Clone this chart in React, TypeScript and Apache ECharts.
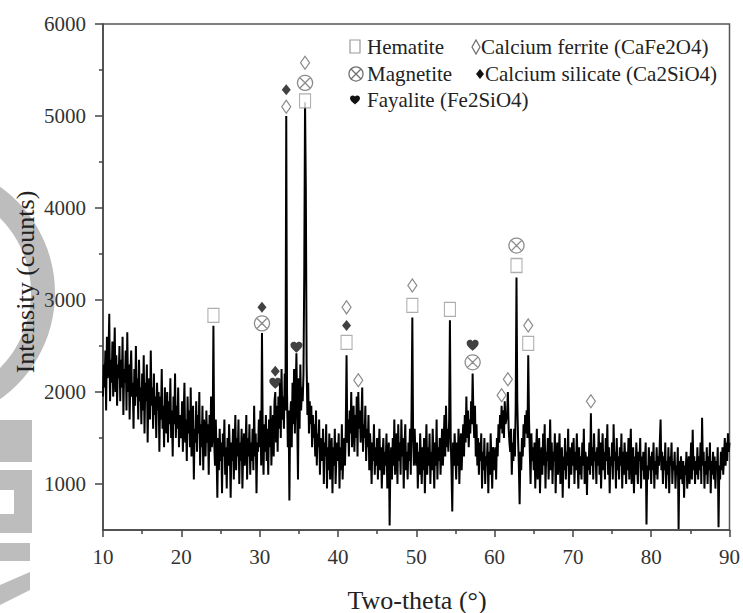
import React, { useEffect, useRef } from "react";
import * as echarts from "echarts";

// Sampling grid of the diffraction pattern (degrees 2θ)
const thetaStart = 10;
const thetaStep = 0.1;

// Intensity (counts), one array per 10° window
const int10to20 = [
  1950, 2300, 2050, 2450, 1800, 2600, 2150, 2400, 2850, 1900,
  2350, 2100, 2550, 1950, 2250, 2700, 2000, 2400, 1850, 2300,
  2150, 2500, 1900, 2350, 2050, 2600, 1750, 2250, 2100, 2450,
  1800, 2650, 2000, 2300, 1700, 2200, 2450, 1950, 2100, 1600,
  2250, 1850, 2500, 1950, 2150, 1700, 2350, 1900, 2050, 1650,
  2200, 1800, 2400, 1550, 2100, 1900, 2300, 1450, 2000, 2150,
  1700, 2450, 1850, 2050, 1600, 2200, 1750, 1950, 1500, 2100,
  1800, 2000, 1350, 1950, 1700, 2250, 1600, 1850, 1400, 2050,
  1750, 1550, 2000, 1450, 1900, 1650, 2150, 1500, 1800, 1300,
  1950, 1650, 2200, 1500, 1850, 1600, 2050, 1400, 1750, 1550,
];
const int20to30 = [
  1500, 1900, 1350, 1750, 2100, 1450, 1700, 1250, 1950, 1550,
  1800, 1400, 2050, 1300, 1650, 1850, 1050, 1600, 1450, 1900,
  1350, 1750, 1550, 2000, 1200, 1650, 1400, 1850, 1150, 1700,
  1500, 1300, 1800, 1450, 1650, 1100, 1750, 1350, 1950, 1400,
  1550, 2720, 1450, 1200, 1700, 1350, 850, 1500, 1150, 1600,
  1250, 1450, 900, 1550, 1300, 1700, 1100, 1400, 950, 1500,
  1200, 1650, 1350, 850, 1450, 1250, 1600, 1050, 1400, 1750,
  1150, 1500, 1300, 1700, 1000, 1450, 1250, 1600, 950, 1350,
  1550, 1200, 1400, 1750, 1050, 1500, 1300, 1650, 1100, 1450,
  1250, 1600, 1150, 1850, 1300, 1550, 900, 1450, 1350, 1700,
];
const int30to40 = [
  1400, 1800, 1200, 2640, 1500, 1100, 1650, 1350, 1750, 1250,
  1600, 1100, 1700, 1400, 1850, 1200, 1550, 1750, 1300, 1900,
  2000, 1450, 1850, 1350, 1950, 1600, 2100, 1500, 2250, 1700,
  1950, 1600, 2200, 1800, 5000, 2000, 1400, 1800, 820, 1700,
  1900, 1400, 2100, 1650, 2250, 1550, 2000, 2420, 1700, 1050,
  2150, 1600, 2300, 1800, 2050, 1900, 2200, 3300, 5150, 4200,
  2300, 1750, 2100, 1550, 1900, 1650, 1850, 1400, 1750, 1500,
  1650, 1300, 1800, 1200, 1550, 1400, 1700, 1100, 1500, 1350,
  1250, 1600, 1000, 1450, 1300, 1650, 950, 1400, 1150, 1550,
  1050, 1350, 1500, 900, 1400, 1200, 1600, 1000, 1300, 1450,
];
const int40to50 = [
  1250, 1550, 950, 1400, 1150, 1650, 1050, 1350, 1500, 1200,
  1600, 2400, 1450, 1700, 1300, 1800, 1550, 2000, 1400, 1650,
  1850, 1350, 1750, 1500, 1950, 1300, 2000, 1600, 1800, 1450,
  1700, 2050, 1350, 1650, 1500, 1850, 1250, 1600, 1400, 1750,
  1150, 1550, 1350, 1000, 1450, 1250, 1650, 1100, 1400, 1200,
  1500, 1050, 1350, 1600, 1150, 1400, 950, 1300, 1500, 1100,
  1350, 1200, 1550, 950, 1300, 1450, 550, 1250, 1400, 1050,
  1500, 1200, 1700, 1100, 1350, 1550, 1000, 1650, 1250, 1450,
  1100, 1700, 1300, 1500, 950, 1400, 1650, 1150, 1350, 1050,
  1450, 1250, 1600, 1100, 1800, 2810, 1500, 1200, 1600, 1300,
];
const int50to60 = [
  1200, 1450, 950, 1350, 1100, 1550, 1250, 1000, 1400, 1150,
  1500, 900, 1300, 1650, 1100, 1400, 1200, 1550, 1000, 1350,
  1150, 1600, 1300, 950, 1450, 1200, 1700, 1050, 1400, 1250,
  1500, 1100, 1350, 1600, 1200, 1450, 1750, 1300, 1850, 1400,
  1600, 1350, 1700, 2780, 1500, 1150, 700, 1450, 1200, 1550,
  1300, 1050, 1450, 1200, 1600, 1000, 1350, 1550, 1150, 1450,
  1650, 1300, 1750, 1450, 1950, 1500, 1800, 1400, 1700, 1550,
  1900, 1650, 2200, 1750, 1500, 1850, 1300, 1650, 1200, 1500,
  1100, 1450, 1250, 1550, 950, 1350, 1150, 1500, 1000, 1300,
  1200, 1450, 900, 1350, 1100, 1550, 1250, 950, 1400, 1300,
];
const int60to70 = [
  1150, 1400, 1050, 1500, 1300, 1650, 1450, 1750, 1600, 1850,
  1550, 1800, 1500, 1900, 1650, 1700, 1750, 2000, 1600, 1450,
  1350, 1600, 1100, 1450, 1250, 1600, 1300, 1850, 3245, 1900,
  1500, 1200, 780, 1350, 1150, 1500, 1300, 1650, 1400, 1750,
  1550, 1800, 1500, 2400, 1700, 1350, 1000, 1550, 1250, 1400,
  1150, 1450, 950, 1350, 1600, 1050, 1300, 1500, 900, 1250,
  1400, 1100, 1550, 1200, 1650, 950, 1350, 1250, 1500, 1050,
  1300, 1700, 1150, 1450, 1000, 1350, 1250, 1550, 900, 1300,
  1450, 1100, 1350, 1550, 1000, 1250, 1400, 850, 1300, 1150,
  1500, 1050, 1350, 1200, 1600, 950, 1400, 1250, 1100, 1450,
];
const int70to80 = [
  1200, 1500, 1000, 1350, 1150, 1550, 1250, 950, 1400, 1100,
  1300, 1050, 1450, 1200, 1600, 1000, 1350, 1250, 880, 1300,
  1150, 1450, 1100, 1770, 1200, 1400, 1050, 1550, 1250, 1350,
  1000, 1400, 1200, 1600, 1100, 1450, 950, 1300, 1550, 1150,
  1350, 1050, 1500, 1250, 1650, 1100, 1400, 900, 1300, 1200,
  1450, 1050, 1650, 1250, 1350, 950, 1500, 1150, 1300, 1050,
  1400, 1200, 1550, 950, 1350, 1100, 1450, 1250, 1000, 1350,
  1150, 1500, 1050, 1300, 1600, 1000, 1250, 1400, 900, 1300,
  1100, 1450, 1200, 1000, 1350, 1250, 1500, 950, 1300, 1150,
  1350, 1050, 1250, 1450, 560, 1200, 1050, 1400, 1150, 1300,
];
const int80to90 = [
  1000, 1350, 1150, 1450, 950, 1250, 1100, 1400, 1050, 1300,
  1200, 1450, 1700, 1150, 1350, 1000, 1300, 1150, 1450, 950,
  1250, 1100, 1400, 900, 1300, 1200, 1450, 1000, 1250, 1150,
  1350, 950, 1200, 1100, 1400, 510, 1250, 1050, 1300, 1150,
  1000, 1250, 850, 1200, 1100, 1350, 950, 1150, 1300, 1000,
  1200, 1450, 1050, 1590, 1150, 1300, 1000, 1250, 1100, 1400,
  1050, 1300, 1150, 1450, 1000, 1720, 1200, 1350, 950, 1250,
  1100, 1400, 1000, 1300, 1150, 1450, 900, 1250, 1100, 1350,
  1050, 1300, 950, 1250, 1150, 1400, 530, 1200, 1050, 1350,
  1150, 1400, 1100, 1300, 1500, 1200, 1450, 1250, 1550, 1350,
  1450,
];

// Phase markers: [2θ, marker height in counts]
const hematitePeaks = [[24.1, 2833], [35.8, 5165], [41.1, 2540], [49.5, 2941], [54.3, 2898], [62.8, 3375], [64.3, 2529]];
const calciumFerritePeaks = [[33.4, 5100], [35.8, 5578], [41.1, 2920], [42.6, 2128], [49.5, 3158], [60.9, 1965], [61.7, 2138], [64.3, 2724], [72.3, 1900]];
const magnetitePeaks = [[30.3, 2746], [35.8, 5360], [57.2, 2323], [62.8, 3592]];
const calciumSilicatePeaks = [[30.3, 2920], [32.0, 2225], [33.4, 5285], [41.1, 2724]];
const fayalitePeaks = [[32.0, 2095], [34.7, 2486], [57.2, 2507]];

// Axis ticks
const yLabelTicks = [1000, 2000, 3000, 4000, 5000, 6000];
const yMinorTicks = [1500, 2500, 3500, 4500, 5500];

// Legend entries (two columns)
const legendCol1 = ["Hematite", "Magnetite", "Fayalite (Fe2SiO4)"];
const legendCol2 = ["Calcium ferrite (CaFe2O4)", "Calcium silicate (Ca2SiO4)"];

const SERIF = "Liberation Serif";
const TXT = "#222";
const GREY_SQ = "#9a9a9a";
const GREY_DIA = "#6a6a6a";
const GREY_OT = "#6f6f6f";

const OTIMES = "path://M12,2 A10,10 0 1,1 11.99,2 Z M4.93,4.93 L19.07,19.07 M19.07,4.93 L4.93,19.07";
const HEART = "path://M12,21 L10.5,19.7 C5.4,15.1 2,12.1 2,8.4 C2,5.4 4.4,3 7.5,3 C9.2,3 10.9,3.8 12,5.1 C13.1,3.8 14.8,3 16.5,3 C19.6,3 22,5.4 22,8.4 C22,12.1 18.6,15.1 13.5,19.7 Z";
const HEART_SMALL = "M6,10.5 L5.25,9.85 C2.7,7.55 1,6.05 1,4.2 C1,2.7 2.2,1.5 3.75,1.5 C4.6,1.5 5.45,1.9 6,2.55 C6.55,1.9 7.4,1.5 8.25,1.5 C9.8,1.5 11,2.7 11,4.2 C11,6.05 9.3,7.55 6.75,9.85 Z";

let heartRegistered = false;

export default function App() {
  const ref = useRef<HTMLDivElement>(null);
  useEffect(() => {
    if (!ref.current) return;
    if (!heartRegistered) {
      echarts.graphic.registerShape("legendHeart", echarts.graphic.extendPath(HEART_SMALL, {}));
      heartRegistered = true;
    }
    const chart = echarts.init(ref.current, undefined, { renderer: "svg" });
    const all = [
      ...int10to20, ...int20to30, ...int30to40, ...int40to50,
      ...int50to60, ...int60to70, ...int70to80, ...int80to90,
    ];
    const pattern = all.map((v, i) => [Math.round((thetaStart + i * thetaStep) * 10) / 10, v]);

    const rowY = [47, 74, 100];
    const legendTexts = [
      ...legendCol1.map((t, i) => ({ x: 367, y: rowY[i], t })),
      { x: 481, y: rowY[0], t: legendCol2[0] },
      { x: 485, y: rowY[1], t: legendCol2[1] },
    ].map((o) => ({
      type: "text", x: o.x, y: o.y, z: 100, silent: true,
      style: { text: o.t, fontFamily: SERIF, fontSize: 21, fill: TXT, textAlign: "left", textVerticalAlign: "middle" },
    }));

    chart.setOption({
      animation: false,
      backgroundColor: "#fff",
      textStyle: { fontFamily: SERIF },
      grid: { left: 103, right: 12, top: 24, bottom: 83, show: true, borderColor: "#555", borderWidth: 1.5, backgroundColor: "transparent" },
      xAxis: {
        type: "value", min: 10, max: 90, interval: 10,
        axisLine: { lineStyle: { color: "#444", width: 1.5 } },
        axisTick: { length: 7, lineStyle: { color: "#444", width: 1.5 } },
        minorTick: { show: true, splitNumber: 2, length: 4, lineStyle: { color: "#444", width: 1.5 } },
        axisLabel: { fontFamily: SERIF, fontSize: 21, color: "#333", margin: 16 },
        splitLine: { show: false },
      },
      yAxis: [
        {
          type: "value", min: 500, max: 6000,
          axisLine: { show: true, lineStyle: { color: "#444", width: 1.5 } },
          axisTick: { show: true, length: 8, customValues: yLabelTicks, lineStyle: { color: "#444", width: 1.5 } },
          axisLabel: { fontFamily: SERIF, fontSize: 21, color: "#333", margin: 17, customValues: yLabelTicks, formatter: (v: number) => String(v) },
          splitLine: { show: false },
        },
        {
          type: "value", min: 500, max: 6000, position: "left",
          axisLine: { show: false },
          axisTick: { show: true, length: 4, customValues: yMinorTicks, lineStyle: { color: "#444", width: 1.5 } },
          axisLabel: { show: false },
          splitLine: { show: false },
        },
      ],
      graphic: [
        // faint watermark remnants at the left edge
        { type: "ring", silent: true, z: -10, shape: { cx: -75, cy: 293, r: 130, r0: 106 }, style: { fill: "#bdbdbd" } },
        { type: "rect", silent: true, z: -10, shape: { x: 0, y: 420, width: 32, height: 42 }, style: { fill: "#bdbdbd" } },
        { type: "polygon", silent: true, z: -10, shape: { points: [[0, 470], [32, 470], [32, 533], [0, 533], [0, 514], [14, 514], [14, 490], [0, 490]] }, style: { fill: "#bdbdbd" } },
        { type: "rect", silent: true, z: -10, shape: { x: 0, y: 543, width: 30, height: 18 }, style: { fill: "#bdbdbd" } },
        { type: "polygon", silent: true, z: -10, shape: { points: [[0, 585], [30, 572], [30, 590], [0, 605]] }, style: { fill: "#bdbdbd" } },
        // legend icons
        { type: "rect", silent: true, z: 100, shape: { x: 350, y: rowY[0] - 7, width: 10, height: 13 }, style: { fill: "#fff", stroke: GREY_SQ, lineWidth: 1.2 } },
        { type: "circle", silent: true, z: 100, shape: { cx: 356, cy: rowY[1], r: 7 }, style: { fill: "#fff", stroke: GREY_OT, lineWidth: 1.3 } },
        { type: "line", silent: true, z: 101, shape: { x1: 351, y1: rowY[1] - 5, x2: 361, y2: rowY[1] + 5 }, style: { stroke: GREY_OT, lineWidth: 1.3 } },
        { type: "line", silent: true, z: 101, shape: { x1: 361, y1: rowY[1] - 5, x2: 351, y2: rowY[1] + 5 }, style: { stroke: GREY_OT, lineWidth: 1.3 } },
        { type: "legendHeart", silent: true, z: 100, x: 349, y: rowY[2] - 6, style: { fill: "#111" } },
        { type: "polygon", silent: true, z: 100, shape: { points: [[476, rowY[0] - 7], [480, rowY[0]], [476, rowY[0] + 7], [472, rowY[0]]] }, style: { fill: "#fff", stroke: GREY_DIA, lineWidth: 1.2 } },
        { type: "polygon", silent: true, z: 100, shape: { points: [[480, rowY[1] - 5], [484, rowY[1]], [480, rowY[1] + 5], [476, rowY[1]]] }, style: { fill: "#111" } },
        ...legendTexts,
        {
          type: "text", x: 417, y: 600, z: 100, silent: true,
          style: { text: "Two-theta (°)", fontFamily: SERIF, fontSize: 26, fill: TXT, textAlign: "center", textVerticalAlign: "middle" },
        },
        {
          type: "text", x: 25, y: 282, rotation: Math.PI / 2, z: 100, silent: true,
          style: { text: "Intensity (counts)", fontFamily: SERIF, fontSize: 26, fill: TXT, textAlign: "center", textVerticalAlign: "middle" },
        },
      ],
      series: [
        {
          name: "XRD pattern", type: "line", data: pattern, showSymbol: false, symbol: "none",
          lineStyle: { color: "#000", width: 2 }, z: 2, silent: true,
        },
        {
          name: legendCol1[0], type: "scatter", data: hematitePeaks, symbol: "rect", symbolSize: [11, 14], z: 5,
          itemStyle: { color: "#fff", borderColor: GREY_SQ, borderWidth: 1.2 },
        },
        {
          name: legendCol2[0], type: "scatter", data: calciumFerritePeaks, symbol: "diamond", symbolSize: [9, 13], z: 5,
          itemStyle: { color: "#fff", borderColor: GREY_DIA, borderWidth: 1.2 },
        },
        {
          name: legendCol1[1], type: "scatter", data: magnetitePeaks, symbol: OTIMES, symbolSize: [15, 15], z: 5,
          itemStyle: { color: "rgba(255,255,255,0.9)", borderColor: GREY_OT, borderWidth: 1.3 },
        },
        {
          name: legendCol2[1], type: "scatter", data: calciumSilicatePeaks, symbol: "diamond", symbolSize: [9, 11], z: 5,
          itemStyle: { color: "#111" },
        },
        {
          name: legendCol1[2], type: "scatter", data: fayalitePeaks, symbol: HEART, symbolSize: [12, 11], z: 5,
          itemStyle: { color: "#111" },
        },
      ],
    });
    return () => chart.dispose();
  }, []);
  return <div ref={ref} style={{ position: "fixed", left: 0, top: 0, width: 743, height: 613 }} />;
}
